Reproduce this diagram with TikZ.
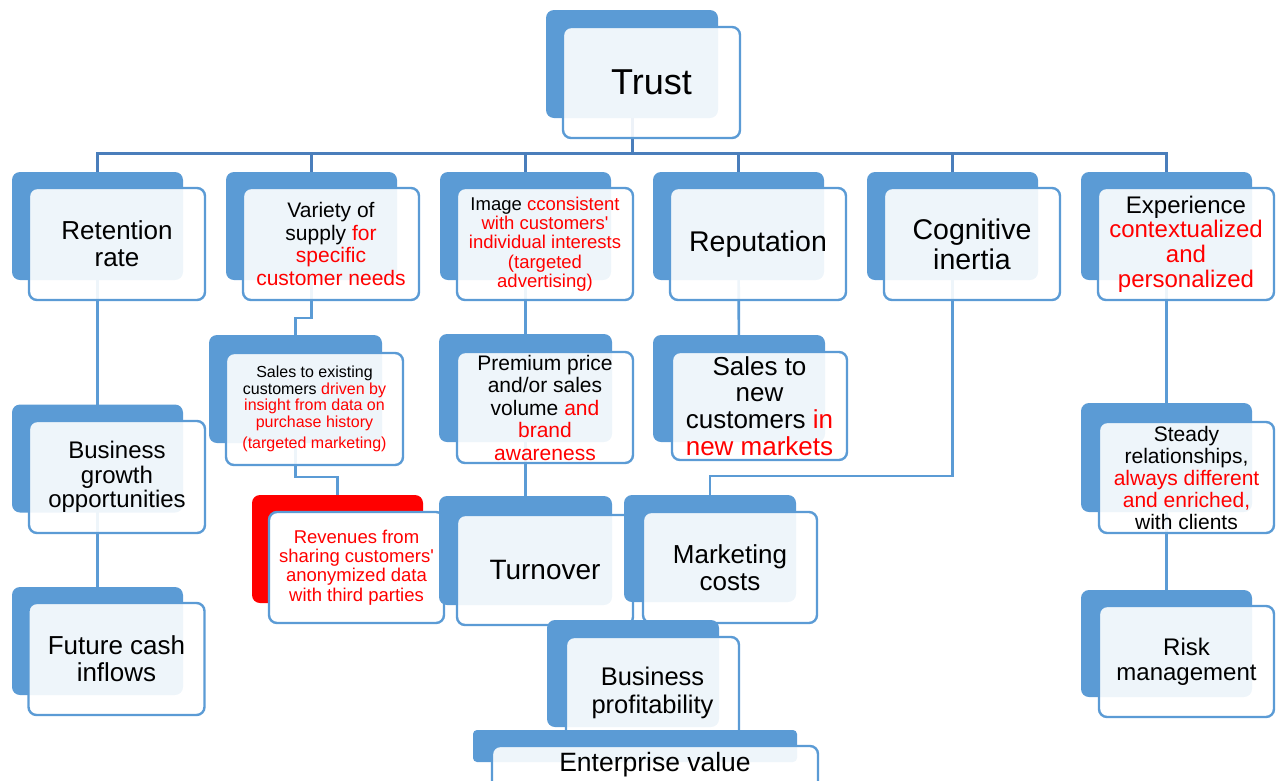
\documentclass[tikz,border=0pt]{standalone}
\usepackage{fontspec}
\setmainfont{Liberation Sans}
\pgfdeclarelayer{bg}
\pgfsetlayers{bg,main}
\definecolor{boxblue}{HTML}{5B9BD5}
\definecolor{busblue}{HTML}{4A7EBB}
\definecolor{alert}{HTML}{FF0000}
\newcommand\fs[2]{\fontsize{#1}{#2}\selectfont}
\newcommand\rd[1]{\textcolor{alert}{#1}}
\newcommand\apos{\textquotesingle}
\tikzset{
  backbox/.style={fill=boxblue, draw=none, rounded corners=8pt, inner sep=0pt,
    minimum width=171pt, minimum height=108pt},
  frontbox/.style={draw=boxblue, line width=2.4pt, fill=white, fill opacity=0.9,
    text opacity=1, rounded corners=8pt, inner sep=0pt, align=center,
    minimum width=176pt, minimum height=112pt},
  bus/.style={draw=busblue, line width=3pt},
  link/.style={draw=boxblue, line width=2.6pt},
  sz/.style 2 args={font=\fs{#1}{#2}},
}
\begin{document}
\begin{tikzpicture}[x=1pt,y=-1pt]
\useasboundingbox (0,0) rectangle (1281,780);
\clip (0,0) rectangle (1281,780);

% top of the hierarchy
\node[backbox, minimum width=172pt] (trustB) at (632,64) {};
\node[frontbox, minimum width=177pt, minimum height=111pt, sz={36}{38}] (trust) at (651.5,82.5) {Trust};

% first row
\node[backbox] (retB) at (97.5,226) {};
\node[frontbox, sz={26}{27}] (ret) at (117,244) {Retention\\rate};
\node[backbox] (varB) at (311.5,226) {};
\node[frontbox, sz={21}{22.5}] (var) at (331,244) {Variety of\\supply \rd{for}\\\rd{specific}\\\rd{customer needs}};
\node[backbox] (imgB) at (525.5,226) {};
\node[frontbox, sz={18.5}{19.3}] (img) at (545,244) {Image \rd{cconsistent}\\\rd{with customers\apos}\\\rd{individual interests}\\\rd{(targeted}\\\rd{advertising)}};
\node[backbox] (repB) at (738.5,226) {};
\node[frontbox, sz={28.5}{30}] (rep) at (758,244) {Reputation};
\node[backbox] (cogB) at (952.5,226) {};
\node[frontbox, sz={28.5}{30}] (cog) at (972,244) {Cognitive\\inertia};
\node[backbox] (expB) at (1166.5,226) {};
\node[frontbox, sz={24}{24.7}] (exp) at (1186,244) {Experience\\\rd{contextualized}\\\rd{and}\\\rd{personalized}};

% left column
\node[backbox] (bgoB) at (97.5,458.5) {};
\node[frontbox, sz={24}{24.5}] (bgo) at (117,477) {Business\\growth\\opportunities};
\node[backbox] (fciB) at (97.5,641) {};
\node[frontbox, sz={26}{27}] (fci) at (116.5,659) {Future cash\\inflows};

% data-driven sales
\node[backbox, minimum width=173pt] (seB) at (295.5,389) {};
\node[frontbox, minimum width=177pt, sz={16}{16.5}] (se) at (314.5,409) {Sales to existing\\customers \rd{driven by}\\\rd{insight from data on}\\\rd{purchase history}\\[5pt]\rd{(targeted marketing)}};
\node[backbox, fill=alert] (revB) at (337.5,549) {};
\node[frontbox, fill opacity=1, text=alert, minimum width=175pt, minimum height=111pt, sz={18.5}{19.3}] (rev) at (356.5,567.5) {Revenues from\\sharing customers\apos\\anonymized data\\with third parties};

% middle columns
\node[backbox, minimum width=173pt] (ppB) at (525.5,388) {};
\node[frontbox, minimum height=111pt, sz={21}{22.5}] (pp) at (545,407.5) {Premium price\\and/or sales\\volume \rd{and}\\\rd{brand}\\\rd{awareness}};
\node[backbox, minimum width=172pt, minimum height=107pt] (snB) at (739,388.5) {};
\node[frontbox, minimum width=175pt, minimum height=108pt, sz={26}{26.7}] (sn) at (759.5,406) {Sales to\\new\\customers \rd{in}\\\rd{new markets}};
\node[backbox, minimum width=173pt, minimum height=109pt] (turnB) at (525.5,550.5) {};
\node[frontbox, minimum height=110pt, sz={28}{30}] (turn) at (545,570) {Turnover};
\node[backbox, minimum width=172pt, minimum height=107pt] (mkB) at (710,548.5) {};
\node[frontbox, minimum width=174pt, minimum height=111pt, sz={26}{27}] (mk) at (730,567.5) {Marketing\\costs};

% bottom of the hierarchy
\node[backbox, minimum width=172pt, minimum height=107pt] (bpB) at (633,673.5) {};
\node[frontbox, minimum width=173pt, sz={25.5}{28}] (bp) at (652.5,693) {Business\\profitability};
\node[backbox, minimum width=324pt, minimum height=32pt, rounded corners=4pt] (evB) at (635,746) {};
\node[frontbox, minimum width=326pt] (evF) at (655,802) {};
\node[sz={26.5}{28}, inner sep=0pt] (ev) at (655,765) {Enterprise value};

% right column
\node[backbox, minimum height=109pt] (stB) at (1166.5,457.5) {};
\node[frontbox, minimum width=175pt, minimum height=111pt, sz={21}{22}] (st) at (1186.5,477.5) {Steady\\relationships,\\\rd{always different}\\\rd{and enriched,}\\with clients};
\node[backbox, minimum height=107pt] (riskB) at (1166.5,643.5) {};
\node[frontbox, minimum width=175pt, minimum height=111pt, sz={24}{25}] (risk) at (1186.5,661.5) {Risk\\management};

% connectors, drawn underneath the boxes
\begin{pgfonlayer}{bg}
  \draw[bus] (trustB.center) -- (trustB.center |- 0,153) coordinate (busC);
  \foreach \c in {retB,varB,imgB,repB,cogB,expB}
    \draw[bus] (busC) -| (\c.north);
  \draw[link] (retB.center) -- (bgoB.center) -- (fciB.center);
  \draw[link] (varB.center) -- (varB.center |- 0,318) -| (seB.center);
  \draw[link] (seB.center) -- (seB.center |- 0,477) -| (revB.center);
  \draw[link] (imgB.center) -- (ppB.center) -- (turnB.center);
  \draw[link] (repB.center) -- (snB.center);
  \draw[link] (cogB.center) -- (cogB.center |- 0,476) -| (mkB.center);
  \draw[link] (expB.center) -- (stB.center) -- (riskB.center);
\end{pgfonlayer}
\end{tikzpicture}
\end{document}
